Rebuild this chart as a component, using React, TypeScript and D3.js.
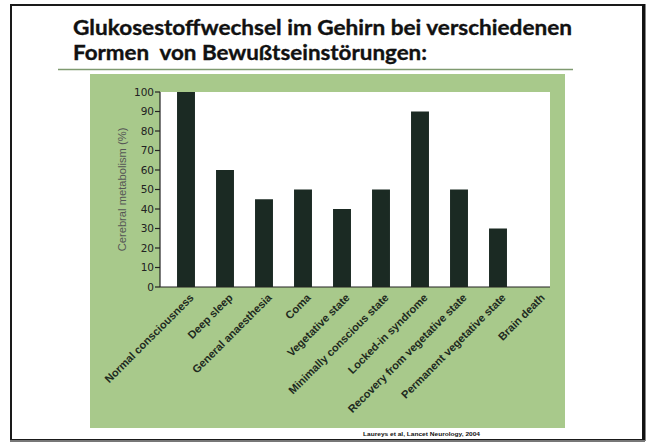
import React from "react";
import * as d3 from "d3";

const categories = [
  "Normal consciousness",
  "Deep sleep",
  "General anaesthesia",
  "Coma",
  "Vegetative state",
  "Minimally conscious state",
  "Locked-in syndrome",
  "Recovery from vegetative state",
  "Permanent vegetative state",
  "Brain death",
];
const values = [100, 60, 45, 50, 40, 50, 90, 50, 30, 0];
const yTicks = [0, 10, 20, 30, 40, 50, 60, 70, 80, 90, 100];
const titleLines = [
  "Glukosestoffwechsel im Gehirn bei verschiedenen",
  "Formen  von Bewußtseinstörungen:",
];
const yLabel = "Cerebral metabolism (%)";
const citation = "Laureys et al, Lancet Neurology, 2004";

export default function App() {
  const W = 648;
  const H = 443;
  const plotL = 160;
  const plotR = 550;
  const plotT = 92;
  const plotB = 287;

  const y = d3.scaleLinear().domain([0, 100]).range([plotB, plotT]);
  const x = d3
    .scaleBand<string>()
    .domain(categories)
    .range([166.5, 556.5])
    .paddingInner(0.54)
    .paddingOuter(0.27);

  const green = "#a8c98b";
  const barColor = "#1b2a23";

  return (
    <svg
      width={W}
      height={H}
      style={{ position: "absolute", left: 0, top: 0, background: "#fff" }}
    >
      <rect x={0} y={0} width={W} height={H} fill="#fff" />
      {/* slide frame */}
      <rect x={11} y={5} width={632} height={435} fill="none" stroke="#1a1a1a" strokeWidth={2} />
      <line x1={644} y1={4} x2={644} y2={441} stroke="#111" strokeWidth={3} />
      <line x1={10} y1={441} x2={645} y2={441} stroke="#777" strokeWidth={2} />

      {/* title */}
      <g
        fontFamily="Lato, 'Open Sans', sans-serif"
        fontWeight={700}
        fontSize={20.5}
        fill="#111"
        stroke="#111"
        strokeWidth={0.35}
      >
        <text x={73} y={35} textLength={499} lengthAdjust="spacingAndGlyphs">
          {titleLines[0]}
        </text>
        <text x={73} y={60} textLength={354} lengthAdjust="spacingAndGlyphs" style={{ whiteSpace: "pre" }}>
          {titleLines[1]}
        </text>
      </g>
      <line x1={58} y1={69.5} x2={573} y2={69.5} stroke="#7f9a70" strokeWidth={1.5} />

      {/* green panel */}
      <rect x={90} y={74} width={475} height={354} fill={green} />
      {/* white plot area */}
      <rect x={plotL} y={plotT} width={plotR - plotL} height={plotB - plotT} fill="#fff" />

      {/* bars */}
      {categories.map((c, i) => (
        <rect
          key={c}
          x={x(c)}
          y={y(values[i])}
          width={x.bandwidth()}
          height={plotB - y(values[i])}
          fill={barColor}
        />
      ))}

      {/* axes */}
      <line x1={plotL} y1={plotT} x2={plotL} y2={plotB} stroke="#222" strokeWidth={1.2} />
      <line x1={plotL} y1={plotB} x2={plotR} y2={plotB} stroke="#222" strokeWidth={1.2} />
      <g fontFamily="'DejaVu Sans', sans-serif" fontSize={10.5} fill="#222">
        {yTicks.map((t) => (
          <g key={t}>
            <line x1={plotL - 5} x2={plotL} y1={y(t)} y2={y(t)} stroke="#222" strokeWidth={1.2} />
            <text x={plotL - 6} y={y(t)} dy="0.35em" textAnchor="end">
              {t}
            </text>
          </g>
        ))}
      </g>
      <text
        transform={`translate(122, ${(plotT + plotB) / 2}) rotate(-90)`}
        textAnchor="middle"
        dy="0.35em"
        fontFamily="'Liberation Sans', Arial, sans-serif"
        fontSize={11.2}
        fill="#555"
      >
        {yLabel}
      </text>

      {/* x labels */}
      <g fontFamily="'Liberation Sans', Arial, sans-serif" fontWeight={700} fontSize={11} fill="#1e2a1e">
        {categories.map((c) => {
          const cx = (x(c) as number) + x.bandwidth() / 2;
          return (
            <text
              key={c}
              transform={`translate(${cx + 3}, ${plotB + 6}) rotate(-45)`}
              textAnchor="end"
              dy="0.7em"
            >
              {c}
            </text>
          );
        })}
      </g>

      {/* citation */}
      <text
        x={363}
        y={436}
        fontFamily="'Liberation Sans', Arial, sans-serif"
        fontWeight={700}
        fontSize={6}
        fill="#111"
        textLength={117}
        lengthAdjust="spacingAndGlyphs"
      >
        {citation}
      </text>
    </svg>
  );
}
